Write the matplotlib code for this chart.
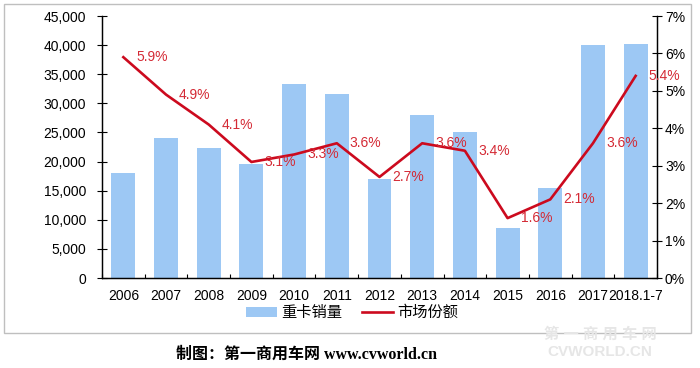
import matplotlib
matplotlib.use('Agg')
import matplotlib.pyplot as plt
import numpy as np
from matplotlib.patches import Rectangle
from matplotlib.ticker import FuncFormatter, PercentFormatter

years = ['2006', '2007', '2008', '2009', '2010', '2011', '2012', '2013',
         '2014', '2015', '2016', '2017', '2018.1-7']
sales = [18000, 24000, 22300, 19600, 33300, 31600, 17000, 28000,
         25000, 8600, 15500, 40000, 40200]
share = [5.9, 4.9, 4.1, 3.1, 3.3, 3.6, 2.7, 3.6, 3.4, 1.6, 2.1, 3.6, 5.4]

plt.rcParams['font.family'] = ['Liberation Sans', 'Noto Sans CJK SC']

x = np.arange(len(years))

fig = plt.figure(figsize=(7, 3.68), dpi=100)
ax = fig.add_axes([102/700, 1-278/368, (657-102)/700, (278-16)/368])
ax2 = ax.twinx()

bars = ax.bar(x, sales, width=0.56, color='#9DC8F4', label='重卡销量', zorder=2)
ax.set_xlim(-0.5, len(years) - 0.5)
ax.set_ylim(0, 45000)
ax.set_yticks(np.arange(0, 45001, 5000))
ax.yaxis.set_major_formatter(FuncFormatter(lambda v, p: f'{int(v):,}'))
ax.set_xticks(x)
ax.set_xticklabels(years)
ax.set_xticks(np.arange(-0.5, len(years), 1), minor=True)
ax.tick_params(axis='x', which='major', length=0, pad=8, labelsize=10)
ax.tick_params(axis='x', which='minor', direction='in', length=3, width=0.8)
ax.tick_params(axis='y', direction='inout', length=6.5, width=0.8, pad=8, labelsize=10)

line, = ax2.plot(x, share, color='#CC0A1E', lw=1.9, label='市场份额', zorder=3)
ax2.set_ylim(0, 7)
ax2.set_yticks(np.arange(0, 8, 1))
ax2.yaxis.set_major_formatter(PercentFormatter(100, decimals=0))
ax2.tick_params(axis='y', direction='inout', length=6.5, width=0.8, pad=2.5, labelsize=10)

for i, v in enumerate(share):
    ax2.annotate(f'{v}%', (x[i], v), textcoords='offset points', xytext=(9.4, 0),
                 ha='left', va='center', fontsize=10, color='#D42A35')

for a in (ax, ax2):
    a.spines['top'].set_visible(False)
    for s in ('left', 'right', 'bottom'):
        a.spines[s].set_linewidth(0.9)

fig.legend(handles=[bars, line], labels=['重卡销量', '市场份额'], loc='center',
           bbox_to_anchor=(0.503, 1-313/368), ncol=2, frameon=False, fontsize=11,
           handlelength=2.0, handletextpad=0.3, columnspacing=1.3)

fig.add_artist(Rectangle((4/700, 1-333/368), 687/700, 329/368, transform=fig.transFigure,
                         fill=False, edgecolor='#BFBFBF', lw=1))

fig.text(306/700, 1-355/368, '制图：第一商用车网 www.cvworld.cn', ha='center', va='center',
         fontsize=11.5, fontweight='bold', family=['Liberation Serif', 'Noto Sans CJK SC'])

# faint watermark
fig.text(600/700, 1-334/368, '第 一 商 用 车 网', ha='center', va='center',
         fontsize=11, color='#E6E6E6', fontweight='bold')
fig.text(600/700, 1-352/368, 'CVWORLD.CN', ha='center', va='center',
         fontsize=11, color='#E6E6E6', fontweight='bold')

fig.savefig('out.png', dpi=100)
